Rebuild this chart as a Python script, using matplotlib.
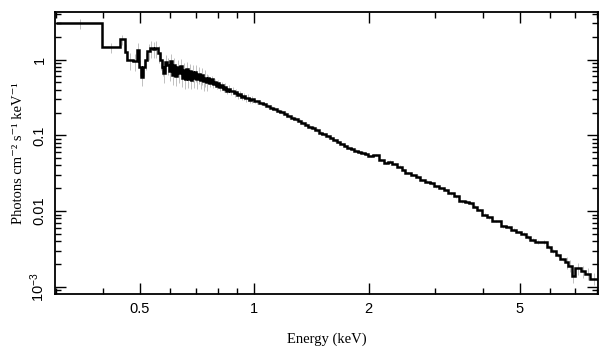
import numpy as np
import matplotlib
matplotlib.use("Agg")
import matplotlib.pyplot as plt

# bin edges (keV) and flux (photons cm^-2 s^-1 keV^-1)
edges = [0.300, 0.396, 0.442, 0.456, 0.462, 0.480, 0.491, 0.496, 0.503, 0.509,
         0.516, 0.523, 0.531, 0.540, 0.548, 0.556, 0.563, 0.570, 0.576, 0.583,
         0.589, 0.595, 0.601, 0.607, 0.613, 0.619, 0.625, 0.631, 0.637, 0.643,
         0.649, 0.655, 0.661, 0.667, 0.673, 0.679, 0.685, 0.691, 0.697, 0.704,
         0.711, 0.718, 0.725, 0.732, 0.739, 0.746, 0.753, 0.760, 0.768, 0.776,
         0.784, 0.792, 0.800, 0.808, 0.817, 0.826, 0.835, 0.844, 0.853, 0.862,
         0.872, 0.882, 0.892, 0.902, 0.913, 0.924, 0.935, 0.946, 0.958, 0.970,
         0.982, 0.995, 1.008, 1.030, 1.052, 1.075, 1.098, 1.122, 1.146, 1.171,
         1.196, 1.222, 1.248, 1.275, 1.302, 1.330, 1.359, 1.388, 1.418, 1.449,
         1.480, 1.512, 1.545, 1.578, 1.612, 1.647, 1.682, 1.718, 1.755, 1.793,
         1.832, 1.872, 1.912, 1.953, 1.995, 2.06, 2.13, 2.19, 2.25, 2.31,
         2.38, 2.45, 2.50, 2.58, 2.66, 2.73, 2.81, 2.90, 2.97, 3.06,
         3.15, 3.24, 3.35, 3.46, 3.58, 3.68, 3.76, 3.86, 3.98, 4.10,
         4.22, 4.46, 4.60, 4.75, 4.90, 5.05, 5.20, 5.33, 5.50, 5.68,
         5.90, 6.05, 6.22, 6.40, 6.58, 6.72, 6.85, 6.99, 7.25, 7.45,
         7.66, 8.05]

flux = [3.0, 1.45, 1.85, 1.27, 0.98, 0.95, 1.33, 0.80, 0.59, 0.80,
        0.98, 1.30, 1.42, 1.38, 1.42, 1.22, 0.98, 0.80, 0.66, 0.92,
        0.84, 0.70, 0.95, 0.62, 0.85, 0.60, 0.80, 0.66, 0.82, 0.58,
        0.72, 0.55, 0.74, 0.56, 0.70, 0.54, 0.68, 0.57, 0.68, 0.55,
        0.64, 0.54, 0.62, 0.52, 0.58, 0.51, 0.57, 0.49, 0.55, 0.47,
        0.51, 0.45, 0.49, 0.43, 0.46, 0.41, 0.44, 0.39, 0.415, 0.38,
        0.39, 0.36, 0.37, 0.34, 0.35, 0.325, 0.33, 0.31, 0.315, 0.295,
        0.30, 0.285, 0.280, 0.268, 0.256, 0.247, 0.232, 0.222, 0.210, 0.201,
        0.190, 0.182, 0.171, 0.164, 0.154, 0.147, 0.139, 0.130, 0.124, 0.117,
        0.108, 0.103, 0.097, 0.092, 0.086, 0.082, 0.077, 0.073, 0.069, 0.066,
        0.063, 0.061, 0.059, 0.057, 0.0535, 0.0548, 0.0475, 0.0430, 0.0450, 0.0420,
        0.0385, 0.0350, 0.0318, 0.0300, 0.0285, 0.0258, 0.0245, 0.0232, 0.0212, 0.0201,
        0.0190, 0.0172, 0.0156, 0.0134, 0.0133, 0.0126, 0.0114, 0.0104, 0.0090, 0.0083,
        0.0074, 0.0063, 0.0061, 0.0057, 0.0053, 0.0050, 0.0046, 0.0042, 0.0039, 0.0039,
        0.0034, 0.0030, 0.0026, 0.0023, 0.0021, 0.0019, 0.00137, 0.00175, 0.00162, 0.00150,
        0.00128]

# fractional error bars by energy band
err_band_edges = [0.3, 0.45, 0.75, 1.0, 1.5, 5.0, 6.5, 8.05]
err_band_frac = [0.15, 0.25, 0.10, 0.06, 0.04, 0.06, 0.18]

plt.rcParams['font.family'] = 'Liberation Sans'
plt.rcParams['mathtext.fontset'] = 'custom'
plt.rcParams['mathtext.rm'] = 'Liberation Sans'
plt.rcParams['mathtext.it'] = 'Liberation Sans:italic'

e = np.array(edges)
f = np.array(flux)
mid = 0.5 * (e[:-1] + e[1:])
frac = np.array(err_band_frac)[np.searchsorted(err_band_edges, mid) - 1]

fig = plt.figure(figsize=(6.09, 3.57), dpi=100)
ax = fig.add_axes([0.0903, 0.1765, 0.892, 0.7895])

ax.vlines(mid, f * (1 - frac), f * (1 + frac), color='#c0c0c0', lw=0.7, zorder=1)
ax.stairs(f, e, baseline=None, color='black', lw=1.8, zorder=2)

ax.set_xscale('log')
ax.set_yscale('log')
ax.set_xlim(0.2985, 8.05)
ax.set_ylim(8.05e-4, 4.23)

ax.set_xticks([0.5, 1, 2, 5])
ax.set_xticklabels(['0.5', '1', '2', '5'])
ax.set_yticks([1e-3, 0.01, 0.1, 1])
ax.set_yticklabels([r'$10^{-3}$', '0.01', '0.1', '1'], rotation=90, va='center')
ax.tick_params(which='both', direction='in', top=True, right=True, width=1.0)
ax.tick_params(which='major', length=8, labelsize=10.5, pad=6)
ax.tick_params(which='minor', length=4)
for s in ax.spines.values():
    s.set_linewidth(1.3)

ax.set_xlabel('Energy (keV)', family='Liberation Serif', fontsize=10.5, labelpad=12)
ax.set_ylabel('Photons cm\u207b\u00b2 s\u207b\u00b9 keV\u207b\u00b9',
              family=['Liberation Serif', 'DejaVu Serif'], fontsize=10.5, labelpad=2)

fig.savefig('out.png', dpi=100)
